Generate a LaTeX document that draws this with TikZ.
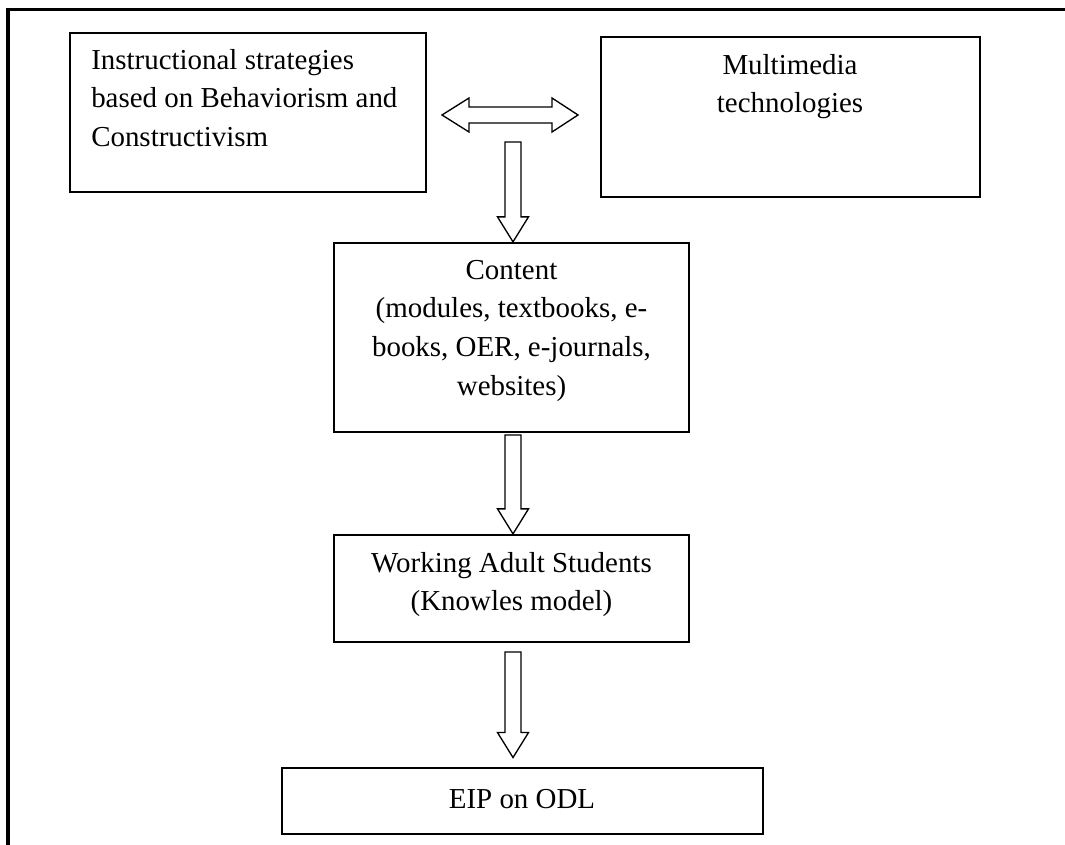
\documentclass[tikz,border=0pt]{standalone}
\usepackage{fontspec}
\setmainfont{Liberation Serif}
\usetikzlibrary{calc}

\tikzset{
	box/.style={draw, line width=1.7pt, inner sep=0pt},
	boxtext/.style={inner sep=0pt, font=\fontsize{21.7}{28.9}\selectfont},
	hollow/.style={draw, line width=1pt, line join=miter},
	frame/.style={line width=2.3pt}
}

\begin{document}
\begin{tikzpicture}[x=0.75pt, y=-0.75pt]
	\useasboundingbox (0,0) rectangle (1065,845);
	\draw[frame] (8,845) -- (8,9.7) -- (1065,9.7);

	% boxes
	\node[box, minimum width=267pt, minimum height=119.25pt] (instr) at (248,112.5) {};
	\node[box, minimum width=284.25pt, minimum height=120pt] (multi) at (790.5,117) {};
	\node[box, minimum width=266.25pt, minimum height=141.75pt] (cont) at (511.5,337.5) {};
	\node[box, minimum width=266.25pt, minimum height=80.25pt] (work) at (511.5,588.5) {};
	\node[box, minimum width=360.75pt, minimum height=49.5pt] (eip) at (522.5,801) {};

	% texts
	\node[boxtext, anchor=north west, align=left] (instrtext) at (91,49) {Instructional strategies\\based on Behaviorism and\\Constructivism};
	\node[boxtext, anchor=north, align=center] (multitext) at (790,54) {Multimedia\\technologies};
	\node[boxtext, anchor=north, align=center] (conttext) at (511.5,260) {Content\\(modules, textbooks, e-\\books, OER, e-journals,\\websites)};
	\node[boxtext, anchor=north, align=center] (worktext) at (511.5,552) {Working Adult Students\\(Knowles model)};
	\node[boxtext, anchor=north] (eiptext) at (522,789) {EIP on ODL};

	% double arrow
	\coordinate (hl) at (442,115);
	\coordinate (hr) at (578,115);
	\draw[hollow] (hl) -- ++(27,-17) -- ++(0,9) -- ($(hr)+(-26,-8)$) -- ++(0,-9) -- (hr)
		-- ++(-26,17) -- ++(0,-9) -- ($(hl)+(27,8)$) -- ++(0,9) -- cycle;

	% down arrows
	\coordinate (a1) at (513,142);
	\coordinate (a2) at (513,435);
	\coordinate (a3) at (513,652);
	\coordinate (t1) at (a1 |- cont.north);
	\coordinate (t2) at (a2 |- work.north);
	\coordinate (t3) at ([yshift=7pt]a3 |- eip.north);
	\foreach \a/\t in {a1/t1, a2/t2, a3/t3}
		\draw[hollow] (\t) -- ++(-15.5,-25) -- ++(7.5,0) |- ($(\a)+(8,0)$) -- ($(\t)+(8,-25)$) -- ++(7.5,0) -- cycle;
\end{tikzpicture}
\end{document}
